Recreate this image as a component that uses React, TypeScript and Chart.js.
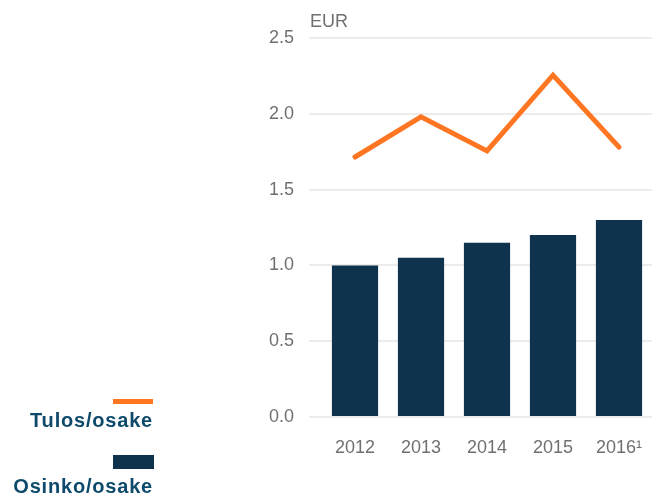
import React, { useEffect, useRef } from "react";
import { Chart, registerables } from "chart.js";

Chart.register(...registerables);

const categories = ["2012", "2013", "2014", "2015", "2016¹"];
const dividendPerShare = [1.0, 1.05, 1.15, 1.2, 1.3];
const earningsPerShare = [1.715, 1.98, 1.755, 2.255, 1.78];
const yTicks = [0, 0.5, 1.0, 1.5, 2.0, 2.5];
const unitLabel = "EUR";
const seriesNames = ["Tulos/osake", "Osinko/osake"];

const ORANGE = "#ff7622";
const NAVY = "#10334d";
const LEGEND_TEXT = "#0d4a6c";
const FONT = "'Liberation Sans', Arial, sans-serif";
const TICK_COLOR = "#707070";

export default function App() {
  const ref = useRef<HTMLCanvasElement | null>(null);

  useEffect(() => {
    if (!ref.current) return;
    const chart = new Chart(ref.current, {
      data: {
        labels: categories,
        datasets: [
          {
            type: "line",
            label: seriesNames[0],
            data: earningsPerShare,
            borderColor: ORANGE,
            backgroundColor: ORANGE,
            borderWidth: 5,
            borderCapStyle: "round",
            borderJoinStyle: "miter",
            pointRadius: 0,
            tension: 0,
            order: 0,
          },
          {
            type: "bar",
            label: seriesNames[1],
            data: dividendPerShare,
            backgroundColor: NAVY,
            barPercentage: 0.7,
            categoryPercentage: 1,
            order: 1,
          },
        ],
      },
      options: {
        responsive: false,
        animation: false,
        layout: { padding: { top: 38, right: 2, left: 0, bottom: 0 } },
        plugins: { legend: { display: false }, tooltip: { enabled: false } },
        scales: {
          x: {
            grid: { display: false, drawTicks: false },
            border: { display: false },
            ticks: {
              color: TICK_COLOR,
              font: { family: FONT, size: 18 },
              padding: 20,
            },
            afterFit: (s: any) => {
              s.height = 81;
              s.paddingLeft = 0;
              s.paddingRight = 0;
            },
          },
          y: {
            min: 0,
            max: 2.5,
            afterBuildTicks: (s: any) => {
              s.ticks = yTicks.map((v) => ({ value: v }));
            },
            grid: {
              color: "#ececec",
              lineWidth: 2,
              tickLength: 13,
              drawTicks: true,
            },
            border: { display: false },
            ticks: {
              color: TICK_COLOR,
              font: { family: FONT, size: 18 },
              padding: 15,
              callback: (v: any) => Number(v).toFixed(1),
            },
            afterFit: (s: any) => {
              s.width = 322;
            },
          },
        },
      },
    });
    return () => chart.destroy();
  }, []);

  const legendText: React.CSSProperties = {
    position: "absolute",
    right: 501,
    fontFamily: FONT,
    fontWeight: "bold",
    fontSize: 20,
    letterSpacing: "0.8px",
    lineHeight: "22px",
    color: LEGEND_TEXT,
    whiteSpace: "nowrap",
    textAlign: "right",
  };

  return (
    <div
      style={{
        position: "fixed",
        left: 0,
        top: 0,
        width: 654,
        height: 498,
        background: "#fff",
        overflow: "hidden",
      }}
    >
      <canvas ref={ref} width={654} height={498} style={{ position: "absolute", left: 0, top: 0 }} />
      <div
        style={{
          position: "absolute",
          left: 310,
          top: 11,
          fontFamily: FONT,
          fontSize: 18,
          color: TICK_COLOR,
          lineHeight: "20px",
        }}
      >
        {unitLabel}
      </div>
      <div style={{ position: "absolute", left: 113, top: 399, width: 40, height: 5, background: ORANGE }} />
      <div style={{ ...legendText, top: 409 }}>{seriesNames[0]}</div>
      <div style={{ position: "absolute", left: 113, top: 455, width: 41, height: 14, background: NAVY }} />
      <div style={{ ...legendText, top: 475 }}>{seriesNames[1]}</div>
    </div>
  );
}
